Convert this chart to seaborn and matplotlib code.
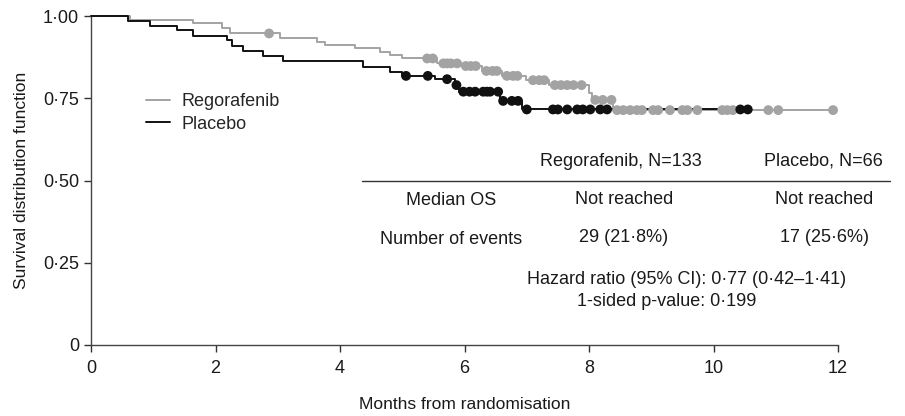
import numpy as np
import pandas as pd
import matplotlib
matplotlib.use("Agg")
import matplotlib.pyplot as plt
import seaborn as sns

# Kaplan-Meier steps (months, survival after the drop)
rego_event_t = [0.0, 0.63, 1.64, 2.10, 2.23, 3.04, 3.63, 3.76, 4.24, 4.64, 4.80, 5.00,
                5.56, 5.95, 6.28, 6.60, 6.98, 7.35, 8.00, 8.05, 8.38]
rego_surv = [1.0, 0.988, 0.978, 0.963, 0.947, 0.932, 0.922, 0.912, 0.902, 0.891, 0.881, 0.871,
             0.856, 0.848, 0.833, 0.818, 0.805, 0.790, 0.765, 0.745, 0.714]
rego_censor_t = [2.86, 5.40, 5.49, 5.66, 5.72, 5.78, 5.88, 6.02, 6.10, 6.18, 6.35, 6.45, 6.52,
                 6.68, 6.78, 6.85, 7.10, 7.20, 7.28, 7.45, 7.55, 7.65, 7.75, 7.88, 8.10, 8.22,
                 8.36, 8.45, 8.55, 8.66, 8.77, 8.85, 9.03, 9.11, 9.30, 9.50, 9.58, 9.74, 10.14,
                 10.22, 10.31, 10.88, 11.04, 11.92]

plac_event_t = [0.0, 0.59, 0.95, 1.38, 1.64, 2.18, 2.27, 2.44, 2.76, 3.08, 4.37, 4.80, 5.00,
                5.53, 5.85, 5.91, 6.57, 6.92]
plac_surv = [1.0, 0.986, 0.970, 0.957, 0.939, 0.927, 0.909, 0.894, 0.877, 0.863, 0.846, 0.831,
             0.818, 0.808, 0.790, 0.770, 0.742, 0.716]
plac_censor_t = [5.06, 5.41, 5.72, 5.87, 5.98, 6.08, 6.17, 6.30, 6.36, 6.41, 6.54, 6.62, 6.76,
                 6.86, 7.00, 7.42, 7.50, 7.65, 7.81, 7.90, 8.02, 8.18, 8.29, 10.43, 10.55]

arms = ["Regorafenib", "Placebo"]
colors = {"Regorafenib": "#a3a3a3", "Placebo": "#111111"}

x_ticks = [0, 2, 4, 6, 8, 10, 12]
y_ticks = [0, 0.25, 0.5, 0.75, 1.0]
y_tick_labels = ["0", "0\u00b725", "0\u00b750", "0\u00b775", "1\u00b700"]

table_header = ["Regorafenib, N=133", "Placebo, N=66"]
row_labels = ["Median OS", "Number of events"]
rego_cells = ["Not reached", "29 (21\u00b78%)"]
plac_cells = ["Not reached", "17 (25\u00b76%)"]
hr_text = "Hazard ratio (95% CI): 0\u00b777 (0\u00b742\u20131\u00b741)"
p_text = "1-sided p-value: 0\u00b7199"

sns.set_style("ticks")
plt.rcParams["font.family"] = ["Liberation Sans", "DejaVu Sans"]
plt.rcParams["font.size"] = 13


def step_frame(arm, ev_t, surv, cens_t):
    t = list(ev_t) + [max(max(cens_t), ev_t[-1])]
    s = list(surv) + [surv[-1]]
    return pd.DataFrame({"time": t, "surv": s, "arm": arm})


def censor_frame(arm, ev_t, surv, cens_t):
    idx = np.searchsorted(np.array(ev_t), np.array(cens_t), side="right") - 1
    return pd.DataFrame({"time": cens_t, "surv": np.array(surv)[idx], "arm": arm})


steps = pd.concat([step_frame("Regorafenib", rego_event_t, rego_surv, rego_censor_t),
                   step_frame("Placebo", plac_event_t, plac_surv, plac_censor_t)])
cens = pd.concat([censor_frame("Regorafenib", rego_event_t, rego_surv, rego_censor_t),
                  censor_frame("Placebo", plac_event_t, plac_surv, plac_censor_t)])

fig = plt.figure(figsize=(9.05, 4.16), dpi=100)
ax = fig.add_axes([0.1006, 0.1707, 0.8254, 0.7908])

for arm in arms:
    sns.lineplot(data=steps[steps.arm == arm], x="time", y="surv", ax=ax,
                 color=colors[arm], drawstyle="steps-post", estimator=None, sort=False,
                 linewidth=1.4, label=arm, clip_on=False, zorder=3)
    sns.scatterplot(data=cens[cens.arm == arm], x="time", y="surv", ax=ax,
                    color=colors[arm], s=50, edgecolor="none", legend=False,
                    clip_on=False, zorder=4)

ax.set_xlim(0, 12)
ax.set_ylim(0, 1)
ax.set_xticks(x_ticks)
ax.set_xticklabels([str(v) for v in x_ticks])
ax.set_yticks(y_ticks)
ax.set_yticklabels(y_tick_labels)
ax.tick_params(direction="out", length=5, width=1, colors="#333333", labelsize=13,
               labelcolor="#1a1a1a")
ax.tick_params(axis="x", pad=6)
sns.despine(ax=ax)
for sp in ["left", "bottom"]:
    ax.spines[sp].set_color("#444444")
    ax.spines[sp].set_linewidth(1)

ax.set_xlabel("Months from randomisation", fontsize=12.5, labelpad=14, color="#1a1a1a")
ax.set_ylabel("Survival distribution function", fontsize=12.5, labelpad=10, color="#1a1a1a")

ax.legend(loc="upper left", bbox_to_anchor=(0.064, 0.787), frameon=False, fontsize=13,
          handlelength=1.3, handletextpad=0.65, labelspacing=0.3, borderaxespad=0)

# summary table
txt = dict(fontsize=13, color="#1a1a1a", va="center", ha="center")
ax.text(8.51, 0.559, table_header[0], **txt)
ax.text(11.76, 0.559, table_header[1], **txt)
ax.plot([4.35, 12.84], [0.498, 0.498], color="#333333", linewidth=1, clip_on=False)
for i, yy in enumerate([0.438, 0.322]):
    ax.text(5.79, yy, row_labels[i], **txt)
    ax.text(8.56, yy + 0.004, rego_cells[i], **txt)
    ax.text(11.78, yy + 0.004, plac_cells[i], **txt)
ax.text(9.57, 0.200, hr_text, **txt)
ax.text(9.25, 0.131, p_text, **txt)

fig.savefig("out.png", dpi=100)
